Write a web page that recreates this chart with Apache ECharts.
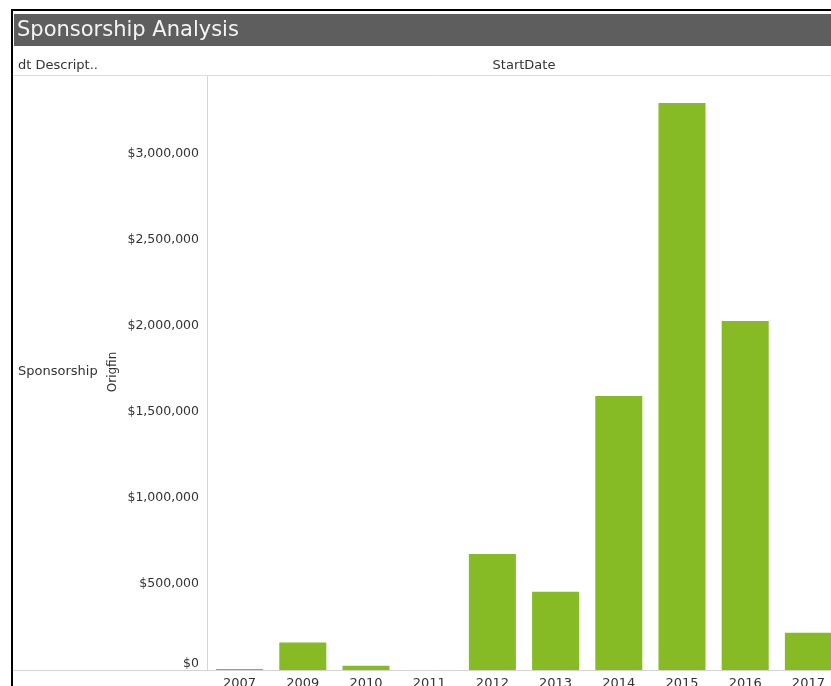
<!DOCTYPE html>
<html lang="en">
<head>
  <meta charset="UTF-8">
  <title>Sponsorship Analysis</title>
  <script src="https://cdn.jsdelivr.net/npm/echarts@6/dist/echarts.min.js"></script>
  <style>
    html, body { margin: 0; padding: 0; background: #fff; overflow: hidden; }
  </style>
</head>
<body>
<!-- the view is wider than the window, the last column is cut off like in the original -->
<div id="main" style="width: 860px;height: 686px"></div>
<script>
  // values
  const years = ['2007', '2009', '2010', '2011', '2012', '2013', '2014', '2015', '2016', '2017'];
  const amounts = [6000, 160000, 25000, 0, 675000, 455000, 1593000, 3296000, 2029000, 217000];

  const FONT = 'DejaVu Sans';
  const TXT = '#333333';
  const W = 860;

  var chart = echarts.init(document.getElementById('main'));
  var option = {
    animation: false,
    backgroundColor: '#ffffff',
    textStyle: { fontFamily: FONT },
    grid: {
      left: 208,
      top: 76.6,
      height: 593.4,
      width: 632,
      containLabel: false,
      outerBoundsMode: 'none'
    },
    xAxis: {
      type: 'category',
      data: years,
      axisLine: { show: false },
      axisTick: { show: false },
      axisLabel: {
        color: TXT,
        fontFamily: FONT,
        fontSize: 13,
        margin: 7
      }
    },
    yAxis: {
      type: 'value',
      min: 0,
      max: 3450000,
      interval: 500000,
      splitLine: { show: false },
      axisTick: { show: false },
      axisLine: { show: false },
      axisLabel: {
        color: TXT,
        fontFamily: FONT,
        fontSize: 12.5,
        margin: 9,
        showMaxLabel: false,
        verticalAlignMinLabel: 'bottom',
        formatter: function (v) {
          return '$' + v.toLocaleString('en-US');
        }
      }
    },
    series: [{
      type: 'bar',
      data: amounts,
      barCategoryGap: '25.6%',
      itemStyle: { color: '#86bb25' }
    }],
    graphic: [
      // frame
      { type: 'line', shape: { x1: 12, y1: 9, x2: 12, y2: 686 }, style: { stroke: '#000', lineWidth: 2 } },
      { type: 'line', shape: { x1: 11, y1: 10, x2: W, y2: 10 }, style: { stroke: '#000', lineWidth: 2 } },
      // title bar
      { type: 'rect', shape: { x: 14, y: 14, width: W, height: 32 }, style: { fill: '#5e5e5e' } },
      { type: 'text', left: 17, top: 20, style: { text: 'Sponsorship Analysis', fill: '#f4f4f4', font: '21px "DejaVu Sans"' } },
      // header row
      { type: 'text', left: 18, top: 59, style: { text: 'dt Descript..', fill: TXT, font: '13px "DejaVu Sans"' } },
      { type: 'text', x: 524, y: 66, style: { text: 'StartDate', fill: TXT, font: '13px "DejaVu Sans"', align: 'center', verticalAlign: 'middle' } },
      { type: 'line', shape: { x1: 13, y1: 75.5, x2: W, y2: 75.5 }, style: { stroke: '#dcdcdc', lineWidth: 1 } },
      // pane divider / axis line
      { type: 'line', shape: { x1: 207.5, y1: 76, x2: 207.5, y2: 670 }, style: { stroke: '#d4d4d4', lineWidth: 1 } },
      // row header
      { type: 'text', left: 18, top: 365, style: { text: 'Sponsorship', fill: TXT, font: '13px "DejaVu Sans"' } },
      { type: 'text', x: 113, y: 372, rotation: Math.PI / 2, style: { text: 'Origfin', fill: TXT, font: '12px "DejaVu Sans"', align: 'center', verticalAlign: 'middle' } },
      // baseline across the whole view
      { type: 'line', z: 10, shape: { x1: 13, y1: 670.5, x2: W, y2: 670.5 }, style: { stroke: '#d4d4d4', lineWidth: 1 } }
    ]
  };
  chart.setOption(option);
</script>
</body>
</html>
